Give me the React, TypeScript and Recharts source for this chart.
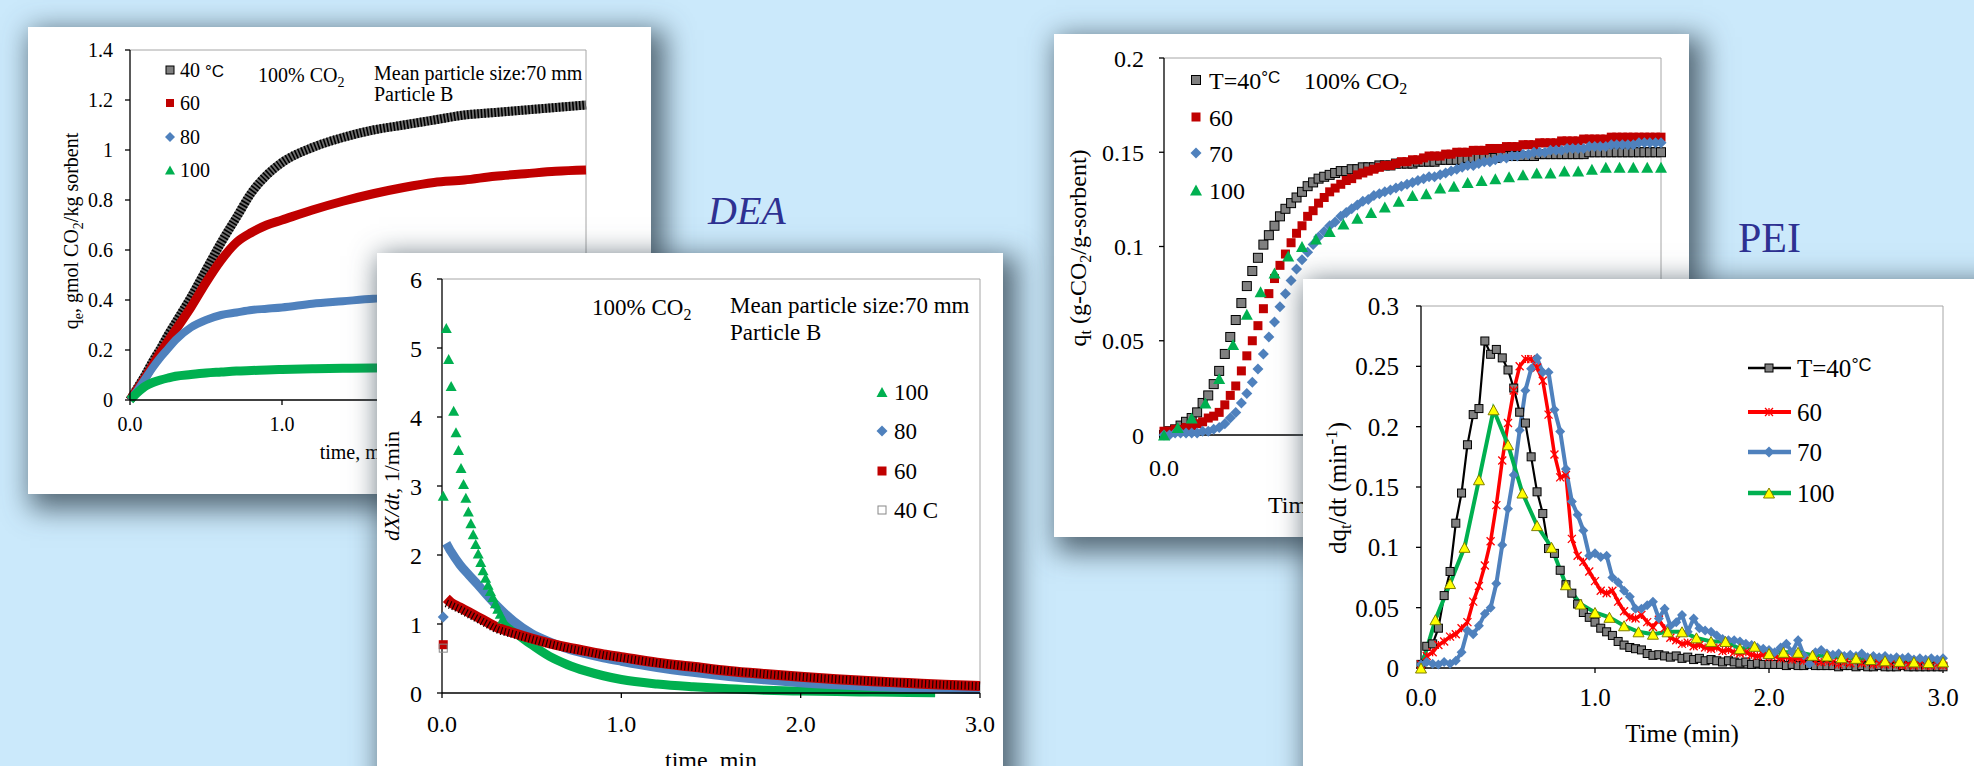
import React from "react";
import { ComposedChart, Line, Scatter, XAxis, YAxis, ReferenceLine } from "recharts";

const SERIF = "'Liberation Serif', 'Times New Roman', serif";
const SANS = "'Liberation Sans', Arial, sans-serif";

const GRAY = "#808080";
const DARK_RED = "#c00000";
const BLUE = "#4f81bd";
const GREEN = "#00b050";
const RED = "#ff0000";
const YELLOW = "#ffff00";

// ticks
const timeTicks = [0, 1, 2, 3];
const deaUptakeTicks = [0, 0.2, 0.4, 0.6, 0.8, 1, 1.2, 1.4];
const deaRateTicks = [0, 1, 2, 3, 4, 5, 6];
const peiUptakeTicks = [0, 0.05, 0.1, 0.15, 0.2];
const peiRateTicks = [0, 0.05, 0.1, 0.15, 0.2, 0.25, 0.3];

// DEA, q_e (gmol CO2/kg sorbent)
const deaTime = [0, 0.05, 0.1, 0.15, 0.2, 0.25, 0.3, 0.4, 0.5, 0.6, 0.7, 0.8, 0.9, 1.0, 1.2, 1.4, 1.6, 1.8, 2.0, 2.2, 2.4, 2.6, 2.8, 3.0];
const qe40 = [0, 0.05, 0.1, 0.155, 0.205, 0.26, 0.31, 0.41, 0.52, 0.63, 0.73, 0.83, 0.9, 0.95, 1.01, 1.05, 1.08, 1.1, 1.12, 1.14, 1.15, 1.16, 1.17, 1.18];
const qe60 = [0, 0.045, 0.09, 0.14, 0.19, 0.235, 0.28, 0.37, 0.47, 0.56, 0.63, 0.67, 0.7, 0.72, 0.76, 0.795, 0.825, 0.85, 0.87, 0.88, 0.895, 0.905, 0.915, 0.92];
const qe80 = [0, 0.04, 0.085, 0.13, 0.17, 0.205, 0.24, 0.29, 0.32, 0.34, 0.35, 0.36, 0.365, 0.37, 0.385, 0.395, 0.405, 0.41, 0.42, 0.425, 0.43, 0.435, 0.44, 0.445];
const qe100 = [0, 0.03, 0.055, 0.07, 0.08, 0.088, 0.095, 0.102, 0.108, 0.112, 0.116, 0.118, 0.12, 0.122, 0.125, 0.127, 0.128, 0.129, 0.13, 0.13, 0.13, 0.13, 0.13, 0.13];

// DEA, dX/dt (1/min)
const rate100EarlyT = [0.007, 0.024, 0.037, 0.051, 0.065, 0.078, 0.092, 0.106, 0.12, 0.133, 0.147, 0.161, 0.174, 0.188, 0.202, 0.216, 0.229, 0.243, 0.257, 0.27, 0.284, 0.298, 0.311, 0.325, 0.339];
const rate100Early = [2.86, 5.29, 4.84, 4.45, 4.09, 3.78, 3.52, 3.26, 3.03, 2.83, 2.63, 2.46, 2.3, 2.16, 2.02, 1.9, 1.78, 1.67, 1.57, 1.48, 1.39, 1.3, 1.22, 1.15, 1.08];
const rate100LateT = [0.339, 0.4, 0.5, 0.6, 0.7, 0.8, 0.9, 1.0, 1.2, 1.4, 1.6, 1.8, 2.0, 2.2, 2.4, 2.6, 2.75];
const rate100Late = [1.08, 0.9, 0.7, 0.53, 0.41, 0.32, 0.25, 0.195, 0.13, 0.09, 0.06, 0.04, 0.028, 0.02, 0.013, 0.008, 0.005];
const rateFirstT = [0.007];
const rate80First = [1.1];
const rate60First = [0.7];
const rate40First = [0.65];
const rateT = [0.024, 0.05, 0.1, 0.15, 0.2, 0.25, 0.3, 0.4, 0.5, 0.6, 0.7, 0.8, 0.9, 1.0, 1.2, 1.4, 1.6, 1.8, 2.0, 2.2, 2.4, 2.6, 2.8, 3.0];
const rate80 = [2.17, 2.05, 1.86, 1.71, 1.57, 1.42, 1.28, 1.04, 0.86, 0.74, 0.64, 0.57, 0.51, 0.46, 0.37, 0.3, 0.24, 0.19, 0.15, 0.12, 0.095, 0.075, 0.06, 0.05];
const rate60 = [1.37, 1.31, 1.24, 1.17, 1.1, 1.03, 0.96, 0.87, 0.79, 0.72, 0.66, 0.61, 0.56, 0.52, 0.44, 0.38, 0.32, 0.275, 0.235, 0.2, 0.17, 0.145, 0.12, 0.1];
const rate40 = [1.3, 1.27, 1.21, 1.14, 1.07, 1.0, 0.93, 0.85, 0.78, 0.71, 0.65, 0.6, 0.55, 0.51, 0.435, 0.375, 0.32, 0.275, 0.235, 0.2, 0.17, 0.145, 0.12, 0.1];

// PEI sampling times (min)
const t2s = [
  0, 0.033, 0.067, 0.1, 0.133, 0.167, 0.2, 0.233, 0.267, 0.3,
  0.333, 0.367, 0.4, 0.433, 0.467, 0.5, 0.533, 0.567, 0.6, 0.633,
  0.667, 0.7, 0.733, 0.767, 0.8, 0.833, 0.867, 0.9, 0.933, 0.967,
  1.0, 1.033, 1.067, 1.1, 1.133, 1.167, 1.2, 1.233, 1.267, 1.3,
  1.333, 1.367, 1.4, 1.433, 1.467, 1.5, 1.533, 1.567, 1.6, 1.633,
  1.667, 1.7, 1.733, 1.767, 1.8, 1.833, 1.867, 1.9, 1.933, 1.967,
  2.0, 2.033, 2.067, 2.1, 2.133, 2.167, 2.2, 2.233, 2.267, 2.3,
  2.333, 2.367, 2.4, 2.433, 2.467, 2.5, 2.533, 2.567, 2.6, 2.633,
  2.667, 2.7, 2.733, 2.767, 2.8, 2.833, 2.867, 2.9, 2.933, 2.967,
  3.0,
];
const t5s = [0, 0.083, 0.167, 0.25, 0.333, 0.417, 0.5, 0.583, 0.667, 0.75, 0.833, 0.917, 1.0, 1.083, 1.167, 1.25, 1.333, 1.417, 1.5, 1.583, 1.667, 1.75, 1.833, 1.917, 2.0, 2.083, 2.167, 2.25, 2.333, 2.417, 2.5, 2.583, 2.667, 2.75, 2.833, 2.917, 3.0];

// PEI, q_t (g-CO2/g-sorbent)
const qt40 = [
  0, 0.002, 0.003, 0.005, 0.007, 0.009, 0.012, 0.017, 0.021, 0.027,
  0.034, 0.043, 0.052, 0.061, 0.07, 0.079, 0.087, 0.094, 0.101, 0.106,
  0.111, 0.116, 0.12, 0.123, 0.126, 0.129, 0.132, 0.134, 0.136, 0.137,
  0.138, 0.139, 0.14, 0.14, 0.141, 0.141, 0.142, 0.142, 0.142, 0.143,
  0.143, 0.143, 0.144, 0.144, 0.144, 0.144, 0.145, 0.145, 0.145, 0.145,
  0.146, 0.146, 0.146, 0.146, 0.146, 0.147, 0.147, 0.147, 0.147, 0.147,
  0.147, 0.148, 0.148, 0.148, 0.148, 0.148, 0.148, 0.148, 0.149, 0.149,
  0.149, 0.149, 0.149, 0.149, 0.149, 0.149, 0.149, 0.15, 0.15, 0.15,
  0.15, 0.15, 0.15, 0.15, 0.15, 0.15, 0.15, 0.15, 0.15, 0.15, 0.15,
];
const qt60 = [
  0.002, 0.002, 0.003, 0.003, 0.004, 0.005, 0.006, 0.007, 0.009, 0.01,
  0.012, 0.016, 0.021, 0.026, 0.034, 0.042, 0.05, 0.058, 0.067, 0.075,
  0.083, 0.09, 0.096, 0.102, 0.107, 0.111, 0.116, 0.119, 0.123, 0.126,
  0.129, 0.131, 0.133, 0.135, 0.136, 0.138, 0.139, 0.14, 0.141, 0.142,
  0.143, 0.143, 0.144, 0.145, 0.145, 0.146, 0.146, 0.147, 0.148, 0.148,
  0.148, 0.149, 0.149, 0.15, 0.15, 0.15, 0.151, 0.151, 0.151, 0.152,
  0.152, 0.152, 0.153, 0.153, 0.153, 0.154, 0.154, 0.154, 0.155, 0.155,
  0.155, 0.155, 0.156, 0.156, 0.156, 0.156, 0.157, 0.157, 0.157, 0.157,
  0.157, 0.158, 0.158, 0.158, 0.158, 0.158, 0.158, 0.158, 0.158, 0.158, 0.158,
];
const qt70 = [
  0, 0, 0.001, 0.001, 0.001, 0.001, 0.001, 0.002, 0.002, 0.003,
  0.004, 0.006, 0.009, 0.012, 0.017, 0.022, 0.028, 0.035, 0.043, 0.052,
  0.06, 0.068, 0.075, 0.082, 0.088, 0.093, 0.097, 0.101, 0.105, 0.108,
  0.111, 0.113, 0.116, 0.118, 0.12, 0.122, 0.124, 0.125, 0.127, 0.128,
  0.129, 0.13, 0.131, 0.132, 0.133, 0.134, 0.135, 0.136, 0.137, 0.137,
  0.138, 0.139, 0.14, 0.141, 0.142, 0.143, 0.143, 0.144, 0.145, 0.145,
  0.146, 0.147, 0.147, 0.148, 0.148, 0.149, 0.149, 0.15, 0.15, 0.15,
  0.151, 0.151, 0.151, 0.152, 0.152, 0.152, 0.152, 0.153, 0.153, 0.153,
  0.153, 0.154, 0.154, 0.154, 0.154, 0.154, 0.155, 0.155, 0.155, 0.155, 0.155,
];
const qt100 = [
  0, 0.004, 0.009, 0.017, 0.03, 0.048, 0.064, 0.076, 0.086, 0.095,
  0.1, 0.104, 0.108, 0.112, 0.115, 0.118, 0.121, 0.124, 0.127, 0.128,
  0.131, 0.132, 0.134, 0.135, 0.136, 0.137, 0.138, 0.139, 0.139, 0.14,
  0.14, 0.141, 0.142, 0.142, 0.142, 0.142, 0.142,
];

// PEI, dq_t/dt (1/min)
const dq40 = [
  0.003, 0.018, 0.02, 0.033, 0.06, 0.08, 0.12, 0.145, 0.185, 0.21,
  0.215, 0.271, 0.26, 0.264, 0.257, 0.247, 0.232, 0.212, 0.203, 0.175,
  0.146, 0.128, 0.099, 0.095, 0.081, 0.069, 0.062, 0.053, 0.046, 0.042,
  0.038, 0.033, 0.03, 0.027, 0.022, 0.019, 0.017, 0.016, 0.015, 0.012,
  0.0105, 0.011, 0.01, 0.009, 0.01, 0.008, 0.009, 0.007, 0.008, 0.006,
  0.007, 0.006, 0.005, 0.006, 0.005, 0.004, 0.005, 0.003, 0.004, 0.003,
  0.003, 0.003, 0.003, 0.002, 0.003, 0.002, 0.002, 0.003, 0.002, 0.002,
  0.002, 0.002, 0.001, 0.002, 0.002, 0.001, 0.002, 0.001, 0.001, 0.002,
  0.001, 0.001, 0.001, 0.002, 0.001, 0.001, 0.001, 0.001, 0.001, 0.001, 0.001,
];
const dq60 = [
  0.003, 0.01, 0.013, 0.019, 0.022, 0.026, 0.028, 0.033, 0.038, 0.055,
  0.068, 0.085, 0.105, 0.135, 0.172, 0.203, 0.23, 0.25, 0.256, 0.256,
  0.249, 0.238, 0.21, 0.177, 0.158, 0.16, 0.107, 0.093, 0.088, 0.08,
  0.072, 0.064, 0.062, 0.064, 0.055, 0.047, 0.042, 0.041, 0.044, 0.038,
  0.034, 0.04, 0.033, 0.025, 0.023, 0.02, 0.021, 0.018, 0.019, 0.017,
  0.016, 0.017, 0.014, 0.015, 0.013, 0.012, 0.013, 0.011, 0.01, 0.011,
  0.009, 0.01, 0.008, 0.009, 0.007, 0.008, 0.006, 0.007, 0.006, 0.005,
  0.006, 0.005, 0.003, 0.005, 0.004, 0.006, 0.004, 0.005, 0.003, 0.004,
  0.003, 0.004, 0.003, 0.002, 0.003, 0.002, 0.003, 0.002, 0.002, 0.003, 0.002,
];
const dq70 = [
  0.003, 0.005, 0.0035, 0.003, 0.005, 0.0035, 0.006, 0.013, 0.031, 0.028,
  0.035, 0.045, 0.05, 0.07, 0.102, 0.132, 0.16, 0.197, 0.23, 0.248,
  0.257, 0.245, 0.245, 0.214, 0.196, 0.165, 0.138, 0.127, 0.114, 0.093,
  0.095, 0.092, 0.093, 0.075, 0.071, 0.064, 0.059, 0.049, 0.049, 0.052,
  0.055, 0.041, 0.049, 0.035, 0.038, 0.044, 0.03, 0.041, 0.033, 0.031,
  0.03, 0.027, 0.024, 0.023, 0.023, 0.022, 0.02, 0.019, 0.017, 0.016,
  0.015, 0.013, 0.017, 0.02, 0.013, 0.023, 0.0105, 0.0035, 0.013, 0.015,
  0.012, 0.011, 0.012, 0.01, 0.011, 0.01, 0.012, 0.009, 0.01, 0.009,
  0.01, 0.008, 0.009, 0.008, 0.009, 0.007, 0.008, 0.007, 0.008, 0.007, 0.008,
];
const dq100 = [
  0, 0.04, 0.07, 0.1, 0.156, 0.214, 0.185, 0.145, 0.118, 0.1,
  0.069, 0.053, 0.046, 0.042, 0.035, 0.03, 0.028, 0.03, 0.03, 0.025,
  0.022, 0.022, 0.016, 0.018, 0.012, 0.013, 0.013, 0.0105, 0.01, 0.0085,
  0.008, 0.007, 0.006, 0.0055, 0.005, 0.0045, 0.005,
];

const zip = (ts: number[], vs: number[]) => ts.map((t, i) => ({ t, v: vs[i] }));

// marker shapes
const square = (cx: number, cy: number, s: number, fill: string, stroke?: string) => (
  <rect x={cx - s / 2} y={cy - s / 2} width={s} height={s} fill={fill} stroke={stroke || "none"} strokeWidth={1} />
);
const diamond = (cx: number, cy: number, s: number, fill: string) => (
  <path d={`M${cx},${cy - s / 2}L${cx + s / 2},${cy}L${cx},${cy + s / 2}L${cx - s / 2},${cy}Z`} fill={fill} />
);
const triangle = (cx: number, cy: number, w: number, h: number, fill: string, stroke?: string) => (
  <path d={`M${cx},${cy - h / 2}L${cx + w / 2},${cy + h / 2}L${cx - w / 2},${cy + h / 2}Z`} fill={fill} stroke={stroke || "none"} strokeWidth={1} />
);
const star = (cx: number, cy: number, s: number, color: string) => (
  <path
    d={`M${cx - s / 2},${cy - s / 2}L${cx + s / 2},${cy + s / 2}M${cx - s / 2},${cy + s / 2}L${cx + s / 2},${cy - s / 2}M${cx},${cy - s / 2}L${cx},${cy + s / 2}`}
    stroke={color}
    strokeWidth={1.3}
    fill="none"
  />
);

// serif tick labels (Excel look)
const xTick = (fontSize: number) => (p: any) => (
  <text x={p.x} y={p.y} dy="0.71em" textAnchor="middle" fontFamily={SERIF} fontSize={fontSize} fill="#000">
    {Number(p.payload.value).toFixed(1)}
  </text>
);
const yTick = (fontSize: number) => (p: any) => (
  <text x={p.x} y={p.y} dy="0.355em" textAnchor="end" fontFamily={SERIF} fontSize={fontSize} fill="#000">
    {String(p.payload.value)}
  </text>
);

function xAxisProps(fontSize: number, tickMargin: number, height: number) {
  return {
    dataKey: "t",
    type: "number" as const,
    domain: [0, 3],
    ticks: timeTicks,
    interval: 0 as const,
    tickSize: 5,
    tickMargin,
    height,
    axisLine: { stroke: "#000", strokeWidth: 1.3 },
    tickLine: { stroke: "#000", strokeWidth: 1.3 },
    tick: xTick(fontSize),
  };
}

function yAxisProps(domain: number[], ticks: number[], fontSize: number, tickMargin: number, width: number) {
  return {
    dataKey: "v",
    type: "number" as const,
    domain,
    ticks,
    interval: 0 as const,
    tickSize: 5,
    tickMargin,
    width,
    axisLine: { stroke: "#000", strokeWidth: 1.3 },
    tickLine: { stroke: "#000", strokeWidth: 1.3 },
    tick: yTick(fontSize),
  };
}

const SHADOW = "8px 9px 26px 6px rgba(55,72,85,0.8)";

function Card(props: { left: number; top: number; width: number; height: number; z: number; children: React.ReactNode }) {
  return (
    <div
      style={{
        position: "absolute",
        left: props.left,
        top: props.top,
        width: props.width,
        height: props.height,
        background: "#fff",
        boxShadow: SHADOW,
        zIndex: props.z,
      }}
    >
      {props.children}
    </div>
  );
}

const overlayStyle: React.CSSProperties = { position: "absolute", left: 0, top: 0, pointerEvents: "none" };

function DeaUptake() {
  const W = 623, H = 467;
  return (
    <Card left={28} top={27} width={W} height={H} z={1}>
      <ComposedChart width={W} height={H} margin={{ top: 23, right: 65, left: 42, bottom: 54 }}>
        <XAxis {...xAxisProps(20, 12, 40)} />
        <YAxis {...yAxisProps([0, 1.4], deaUptakeTicks, 20, 12, 60)} />
        <ReferenceLine y={1.4} stroke="#a6a6a6" />
        <ReferenceLine x={3} stroke="#a6a6a6" />
        <Line data={zip(deaTime, qe40)} dataKey="v" type="monotone" stroke="#6e6e6e" strokeWidth={9} dot={false} activeDot={false} isAnimationActive={false} />
        <Line data={zip(deaTime, qe40)} dataKey="v" type="monotone" stroke="#000" strokeWidth={9} strokeDasharray="1.6 1.8" dot={false} activeDot={false} isAnimationActive={false} />
        <Line data={zip(deaTime, qe60)} dataKey="v" type="monotone" stroke={DARK_RED} strokeWidth={9} dot={false} activeDot={false} isAnimationActive={false} />
        <Line data={zip(deaTime, qe80)} dataKey="v" type="monotone" stroke={BLUE} strokeWidth={8} dot={false} activeDot={false} isAnimationActive={false} />
        <Line data={zip(deaTime, qe100)} dataKey="v" type="monotone" stroke={GREEN} strokeWidth={9} dot={false} activeDot={false} isAnimationActive={false} />
      </ComposedChart>
      <svg width={W} height={H} style={overlayStyle} fontFamily={SERIF} fill="#000">
        <text transform="translate(50,204) rotate(-90)" textAnchor="middle" fontSize={20}>
          q<tspan fontSize={14} dy={5}>e</tspan>
          <tspan dy={-5}>, gmol CO</tspan>
          <tspan fontSize={14} dy={5}>2</tspan>
          <tspan dy={-5}>/kg sorbent</tspan>
        </text>
        <text x={330} y={432} textAnchor="middle" fontSize={20}>time, min</text>
        <text x={230} y={55} fontSize={20}>
          100% CO<tspan fontSize={14} dy={5}>2</tspan>
        </text>
        <text x={346} y={53} fontSize={20}>Mean particle size:70 mm</text>
        <text x={346} y={74} fontSize={20}>Particle B</text>
        {square(142, 43, 8, GRAY, "#000")}
        {square(142, 76, 8, DARK_RED)}
        {diamond(142, 110, 10, BLUE)}
        {triangle(142, 143, 10, 9, GREEN)}
        <text x={152} y={50} fontSize={20}>
          40 <tspan fontFamily={SANS} fontSize={17}>°C</tspan>
        </text>
        <text x={152} y={83} fontSize={20}>60</text>
        <text x={152} y={117} fontSize={20}>80</text>
        <text x={152} y={150} fontSize={20}>100</text>
      </svg>
    </Card>
  );
}

function DeaRate() {
  const W = 626, H = 513;
  return (
    <Card left={377} top={253} width={W} height={540} z={2}>
      <ComposedChart width={W} height={H} margin={{ top: 26, right: 23, left: 15, bottom: 23 }}>
        <XAxis {...xAxisProps(24, 17, 50)} />
        <YAxis {...yAxisProps([0, 6], deaRateTicks, 24, 15, 50)} />
        <ReferenceLine y={6} stroke="#a6a6a6" />
        <ReferenceLine x={3} stroke="#a6a6a6" />
        <Line data={zip(rate100LateT, rate100Late)} dataKey="v" type="monotone" stroke={GREEN} strokeWidth={9} dot={false} activeDot={false} isAnimationActive={false} />
        <Scatter data={zip(rate100EarlyT, rate100Early)} isAnimationActive={false} shape={(p: any) => triangle(p.cx, p.cy, 11, 10, GREEN)} />
        <Line data={zip(rateT, rate80)} dataKey="v" type="monotone" stroke={BLUE} strokeWidth={9} dot={false} activeDot={false} isAnimationActive={false} />
        <Scatter data={zip(rateFirstT, rate80First)} isAnimationActive={false} shape={(p: any) => diamond(p.cx, p.cy, 11, BLUE)} />
        <Line data={zip(rateT, rate60)} dataKey="v" type="monotone" stroke={DARK_RED} strokeWidth={10} dot={false} activeDot={false} isAnimationActive={false} />
        <Scatter data={zip(rateFirstT, rate60First)} isAnimationActive={false} shape={(p: any) => square(p.cx, p.cy, 9, DARK_RED)} />
        <Line data={zip(rateT, rate40)} dataKey="v" type="monotone" stroke="#1a0000" strokeWidth={8} strokeDasharray="1.2 2.4" dot={false} activeDot={false} isAnimationActive={false} />
        <Scatter data={zip(rateFirstT, rate40First)} isAnimationActive={false} shape={(p: any) => square(p.cx, p.cy, 8, "none", "#888")} />
      </ComposedChart>
      <svg width={W} height={H} style={overlayStyle} fontFamily={SERIF} fill="#000">
        <text transform="translate(22,233) rotate(-90)" textAnchor="middle" fontSize={22}>
          <tspan fontStyle="italic">dX/dt</tspan>, 1/min
        </text>
        <text x={334} y={515} textAnchor="middle" fontSize={24}>time, min</text>
        <text x={215} y={62} fontSize={23}>
          100% CO<tspan fontSize={16} dy={5}>2</tspan>
        </text>
        <text x={353} y={60} fontSize={23}>Mean particle size:70 mm</text>
        <text x={353} y={87} fontSize={23}>Particle B</text>
        {triangle(505, 139, 11, 10, GREEN)}
        {diamond(505, 178, 11, BLUE)}
        {square(505, 218, 9, DARK_RED)}
        {square(505, 257, 8, "#fff", "#888")}
        <text x={517} y={147} fontSize={23}>100</text>
        <text x={517} y={186} fontSize={23}>80</text>
        <text x={517} y={226} fontSize={23}>60</text>
        <text x={517} y={265} fontSize={23}>40 C</text>
      </svg>
    </Card>
  );
}

function PeiUptake() {
  const W = 635, H = 503;
  return (
    <Card left={1054} top={34} width={W} height={H} z={1}>
      <ComposedChart width={W} height={H} margin={{ top: 24, right: 28, left: 40, bottom: 52 }}>
        <XAxis {...xAxisProps(24, 19, 50)} />
        <YAxis {...yAxisProps([0, 0.2], peiUptakeTicks, 24, 15, 70)} />
        <ReferenceLine y={0.2} stroke="#a6a6a6" />
        <ReferenceLine x={3} stroke="#a6a6a6" />
        <Scatter data={zip(t2s, qt40)} isAnimationActive={false} shape={(p: any) => square(p.cx, p.cy, 9, GRAY, "#000")} />
        <Scatter data={zip(t2s, qt60)} isAnimationActive={false} shape={(p: any) => square(p.cx, p.cy, 9, DARK_RED)} />
        <Scatter data={zip(t2s, qt70)} isAnimationActive={false} shape={(p: any) => diamond(p.cx, p.cy, 11, BLUE)} />
        <Scatter data={zip(t5s, qt100)} isAnimationActive={false} shape={(p: any) => triangle(p.cx, p.cy, 12, 11, GREEN)} />
      </ComposedChart>
      <svg width={W} height={H} style={overlayStyle} fontFamily={SERIF} fill="#000">
        <text transform="translate(32,214) rotate(-90)" textAnchor="middle" fontSize={24}>
          q<tspan fontSize={16} dy={5}>t</tspan>
          <tspan dy={-5}> (g-CO</tspan>
          <tspan fontSize={16} dy={5}>2</tspan>
          <tspan dy={-5}>/g-sorbent)</tspan>
        </text>
        <text x={214} y={479} fontSize={24}>Time (min)</text>
        {square(142, 46, 9, GRAY, "#000")}
        {square(142, 83, 9, DARK_RED)}
        {diamond(142, 119, 11, BLUE)}
        {triangle(142, 156, 12, 11, GREEN)}
        <text x={155} y={55} fontSize={24}>
          T=40<tspan fontFamily={SANS} fontSize={17} dy={-6}>°C</tspan>
        </text>
        <text x={250} y={55} fontSize={24}>
          100% CO<tspan fontSize={16} dy={5}>2</tspan>
        </text>
        <text x={155} y={92} fontSize={24}>60</text>
        <text x={155} y={128} fontSize={24}>70</text>
        <text x={155} y={165} fontSize={24}>100</text>
      </svg>
    </Card>
  );
}

function PeiRate() {
  const W = 671, H = 487;
  return (
    <Card left={1303} top={279} width={720} height={540} z={2}>
      <ComposedChart width={W} height={H} margin={{ top: 27, right: 31, left: 48, bottom: 48 }}>
        <XAxis {...xAxisProps(25, 15, 50)} />
        <YAxis {...yAxisProps([0, 0.3], peiRateTicks, 25, 17, 70)} />
        <ReferenceLine y={0.3} stroke="#a6a6a6" />
        <ReferenceLine x={3} stroke="#a6a6a6" />
        <Line
          data={zip(t2s, dq40)} dataKey="v" type="linear" stroke="#000" strokeWidth={2.2} activeDot={false} isAnimationActive={false}
          dot={(p: any) => <g key={`b${p.index}`}>{square(p.cx, p.cy, 8, GRAY, "#000")}</g>}
        />
        <Line
          data={zip(t2s, dq60)} dataKey="v" type="linear" stroke={RED} strokeWidth={3.5} activeDot={false} isAnimationActive={false}
          dot={(p: any) => <g key={`r${p.index}`}>{star(p.cx, p.cy, 8, RED)}</g>}
        />
        <Line
          data={zip(t2s, dq70)} dataKey="v" type="linear" stroke={BLUE} strokeWidth={4} activeDot={false} isAnimationActive={false}
          dot={(p: any) => <g key={`u${p.index}`}>{diamond(p.cx, p.cy, 10, BLUE)}</g>}
        />
        <Line
          data={zip(t5s, dq100)} dataKey="v" type="linear" stroke={GREEN} strokeWidth={4} activeDot={false} isAnimationActive={false}
          dot={(p: any) => <g key={`g${p.index}`}>{triangle(p.cx, p.cy, 11, 10, YELLOW, "#7f7f00")}</g>}
        />
      </ComposedChart>
      <svg width={W} height={H} style={overlayStyle} fontFamily={SERIF} fill="#000">
        <text transform="translate(43,209) rotate(-90)" textAnchor="middle" fontSize={25}>
          dq<tspan fontSize={17} dy={5}>t</tspan>
          <tspan dy={-5}>/dt (min</tspan>
          <tspan fontSize={17} dy={-9}>-1</tspan>
          <tspan dy={9}>)</tspan>
        </text>
        <text x={379} y={463} textAnchor="middle" fontSize={25}>Time (min)</text>
        <line x1={445} x2={488} y1={89} y2={89} stroke="#000" strokeWidth={2.5} />
        {square(466, 89, 8, GRAY, "#000")}
        <line x1={445} x2={488} y1={133} y2={133} stroke={RED} strokeWidth={4} />
        {star(466, 133, 8, RED)}
        <line x1={445} x2={488} y1={173} y2={173} stroke={BLUE} strokeWidth={4.5} />
        {diamond(466, 173, 11, BLUE)}
        <line x1={445} x2={488} y1={214} y2={214} stroke={GREEN} strokeWidth={4.5} />
        {triangle(466, 214, 11, 10, YELLOW, "#7f7f00")}
        <text x={494} y={98} fontSize={25}>
          T=40<tspan fontFamily={SANS} fontSize={18} dy={-6}>°C</tspan>
        </text>
        <text x={494} y={142} fontSize={25}>60</text>
        <text x={494} y={182} fontSize={25}>70</text>
        <text x={494} y={223} fontSize={25}>100</text>
      </svg>
    </Card>
  );
}

export default function App() {
  return (
    <div
      style={{
        position: "absolute",
        left: 0,
        top: 0,
        width: 1974,
        height: 766,
        overflow: "hidden",
        background: "#cbe9fb",
        fontFamily: SERIF,
      }}
    >
      <DeaUptake />
      <DeaRate />
      <PeiUptake />
      <PeiRate />
      <div style={{ position: "absolute", left: 708, top: 187, fontSize: 40, fontStyle: "italic", color: "#2e3192", lineHeight: "48px" }}>DEA</div>
      <div style={{ position: "absolute", left: 1738, top: 213, fontSize: 42, color: "#2e3192", lineHeight: "50px" }}>PEI</div>
    </div>
  );
}
